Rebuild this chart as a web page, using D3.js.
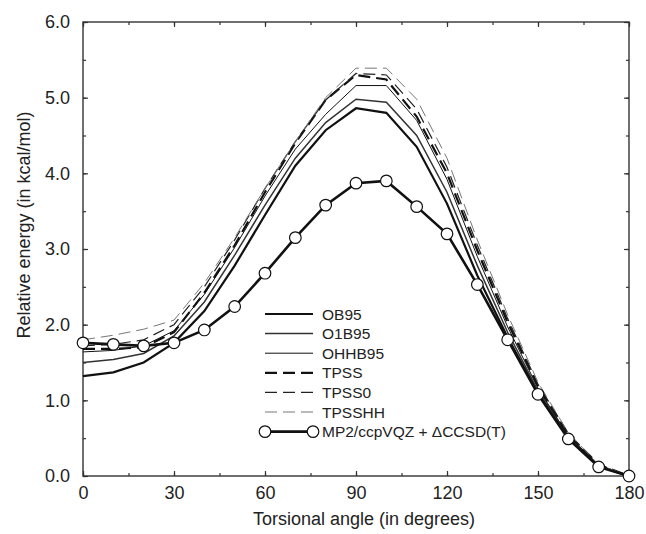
<!DOCTYPE html>
<html>
<head>
<meta charset="utf-8">
<script src="https://cdn.jsdelivr.net/npm/d3@7"></script>
<style>
  body { margin: 0; background: #fff; }
  svg text { font-family: "Liberation Sans", Arial, Helvetica, sans-serif; fill: #222; }
</style>
</head>
<body>
<div id="chart"></div>
<script>
// torsional angle (degrees)
const angles = [0, 10, 20, 30, 40, 50, 60, 70, 80, 90, 100, 110, 120, 130, 140, 150, 160, 170, 180];

// relative energies (kcal/mol)
const ob95   = [1.32, 1.37, 1.50, 1.76, 2.18, 2.78, 3.45, 4.10, 4.57, 4.86, 4.80, 4.35, 3.60, 2.65, 1.83, 1.10, 0.50, 0.13, 0.00];
const o1b95  = [1.50, 1.54, 1.62, 1.85, 2.30, 2.92, 3.58, 4.20, 4.67, 4.98, 4.94, 4.50, 3.75, 2.78, 1.90, 1.13, 0.52, 0.14, 0.00];
const ohhb95 = [1.64, 1.66, 1.72, 1.92, 2.40, 3.02, 3.70, 4.32, 4.78, 5.16, 5.16, 4.70, 3.92, 2.90, 1.97, 1.16, 0.53, 0.14, 0.00];
const tpss   = [1.68, 1.68, 1.70, 1.90, 2.42, 3.05, 3.75, 4.40, 4.97, 5.30, 5.24, 4.75, 4.00, 2.98, 2.03, 1.19, 0.55, 0.15, 0.00];
const tpss0  = [1.72, 1.74, 1.80, 2.00, 2.50, 3.12, 3.80, 4.42, 4.97, 5.32, 5.30, 4.85, 4.08, 3.05, 2.08, 1.21, 0.56, 0.15, 0.00];
const tpsshh = [1.80, 1.86, 1.94, 2.06, 2.55, 3.15, 3.80, 4.42, 5.00, 5.39, 5.39, 4.98, 4.20, 3.12, 2.13, 1.24, 0.57, 0.15, 0.00];
const mp2    = [1.76, 1.74, 1.72, 1.76, 1.93, 2.24, 2.68, 3.15, 3.58, 3.87, 3.90, 3.56, 3.20, 2.53, 1.80, 1.08, 0.49, 0.12, 0.00];

const xTicks = [0, 30, 60, 90, 120, 150, 180];
const yTicks = [0, 1, 2, 3, 4, 5, 6];

const series = [
  {name: 'OB95',   values: ob95,   width: 2.2, dash: null,   color: '#111'},
  {name: 'O1B95',  values: o1b95,  width: 1.5, dash: null,   color: '#333'},
  {name: 'OHHB95', values: ohhb95, width: 1.0, dash: null,   color: '#111'},
  {name: 'TPSS',   values: tpss,   width: 2.2, dash: '12,6', color: '#111'},
  {name: 'TPSS0',  values: tpss0,  width: 1.2, dash: '12,6', color: '#222'},
  {name: 'TPSSHH', values: tpsshh, width: 1.0, dash: '12,6', color: '#777'}
];

const width = 646;
const height = 534;
const margin = {top: 22, right: 17, bottom: 58, left: 83};
const innerW = width - margin.left - margin.right;
const innerH = height - margin.top - margin.bottom;

const svg = d3.select('#chart')
  .append('svg')
  .attr('width', width)
  .attr('height', height);

const g = svg.append('g')
  .attr('transform', `translate(${margin.left},${margin.top})`);

const x = d3.scaleLinear().domain([0, 180]).range([0, innerW]);
const y = d3.scaleLinear().domain([0, 6]).range([innerH, 0]);

// minor ticks
const xMinor = d3.range(0, 181, 15);
const yMinor = d3.range(0, 6.01, 0.5);

function tickAxis(axis, pos) {
  const a = g.append('g').attr('transform', pos).call(axis);
  a.select('.domain').remove();
  a.selectAll('line').attr('stroke', '#333').attr('stroke-width', 1.2);
  return a;
}

tickAxis(d3.axisBottom(x).tickValues(xMinor).tickSize(-3).tickFormat(''), `translate(0,${innerH})`);
tickAxis(d3.axisTop(x).tickValues(xMinor).tickSize(-3).tickFormat(''), 'translate(0,0)');
tickAxis(d3.axisLeft(y).tickValues(yMinor).tickSize(-3).tickFormat(''), 'translate(0,0)');
tickAxis(d3.axisRight(y).tickValues(yMinor).tickSize(-3).tickFormat(''), `translate(${innerW},0)`);

const xAxis = tickAxis(d3.axisBottom(x).tickValues(xTicks).tickSize(-5).tickPadding(10).tickFormat(d3.format('d')), `translate(0,${innerH})`);
xAxis.selectAll('text').attr('font-size', 18).attr('fill', '#222');
tickAxis(d3.axisTop(x).tickValues(xTicks).tickSize(-5).tickFormat(''), 'translate(0,0)');

const yAxis = tickAxis(d3.axisLeft(y).tickValues(yTicks).tickSize(-5).tickPadding(13).tickFormat(d3.format('.1f')), 'translate(0,0)');
yAxis.selectAll('text').attr('font-size', 18).attr('fill', '#222');
tickAxis(d3.axisRight(y).tickValues(yTicks).tickSize(-5).tickFormat(''), `translate(${innerW},0)`);

// frame
g.append('rect')
  .attr('width', innerW)
  .attr('height', innerH)
  .attr('fill', 'none')
  .attr('stroke', '#333')
  .attr('stroke-width', 1.4);

const line = d3.line()
  .x((d, i) => x(angles[i]))
  .y(d => y(d));

series.forEach(s => {
  g.append('path')
    .datum(s.values)
    .attr('d', line)
    .attr('fill', 'none')
    .attr('stroke', s.color)
    .attr('stroke-width', s.width)
    .attr('stroke-dasharray', s.dash);
});

g.append('path')
  .datum(mp2)
  .attr('d', line)
  .attr('fill', 'none')
  .attr('stroke', '#111')
  .attr('stroke-width', 2.6);

g.selectAll('.pt')
  .data(mp2)
  .join('circle')
  .attr('class', 'pt')
  .attr('cx', (d, i) => x(angles[i]))
  .attr('cy', d => y(d))
  .attr('r', 5.8)
  .attr('fill', '#fff')
  .attr('stroke', '#111')
  .attr('stroke-width', 1.2);

// legend
const legX1 = 265 - margin.left;
const legX2 = 313 - margin.left;
const legY0 = 314 - margin.top;
const legStep = 19.6;

const legend = g.append('g');
const legendItems = series.concat([{name: 'MP2/ccpVQZ + \u0394CCSD(T)', width: 2.6, dash: null, color: '#111', marker: true}]);

legendItems.forEach((s, i) => {
  const ly = legY0 + i * legStep;
  legend.append('line')
    .attr('x1', legX1).attr('x2', legX2)
    .attr('y1', ly).attr('y2', ly)
    .attr('stroke', s.color)
    .attr('stroke-width', s.width)
    .attr('stroke-dasharray', s.dash);
  if (s.marker) {
    [legX1, legX2].forEach(cx => {
      legend.append('circle')
        .attr('cx', cx).attr('cy', ly).attr('r', 5.8)
        .attr('fill', '#fff').attr('stroke', '#111').attr('stroke-width', 1.2);
    });
  }
  legend.append('text')
    .attr('x', legX2 + 9)
    .attr('y', ly)
    .attr('dy', '0.36em')
    .attr('font-size', 15.5)
    .text(s.name);
});

// axis titles
svg.append('text')
  .attr('x', margin.left + innerW / 2 + 8)
  .attr('y', 519)
  .attr('dy', '0.36em')
  .attr('text-anchor', 'middle')
  .attr('font-size', 18)
  .text('Torsional angle (in degrees)');

svg.append('text')
  .attr('transform', 'translate(24,225) rotate(-90)')
  .attr('dy', '0.36em')
  .attr('text-anchor', 'middle')
  .attr('font-size', 18)
  .text('Relative energy (in kcal/mol)');
</script>
</body>
</html>
